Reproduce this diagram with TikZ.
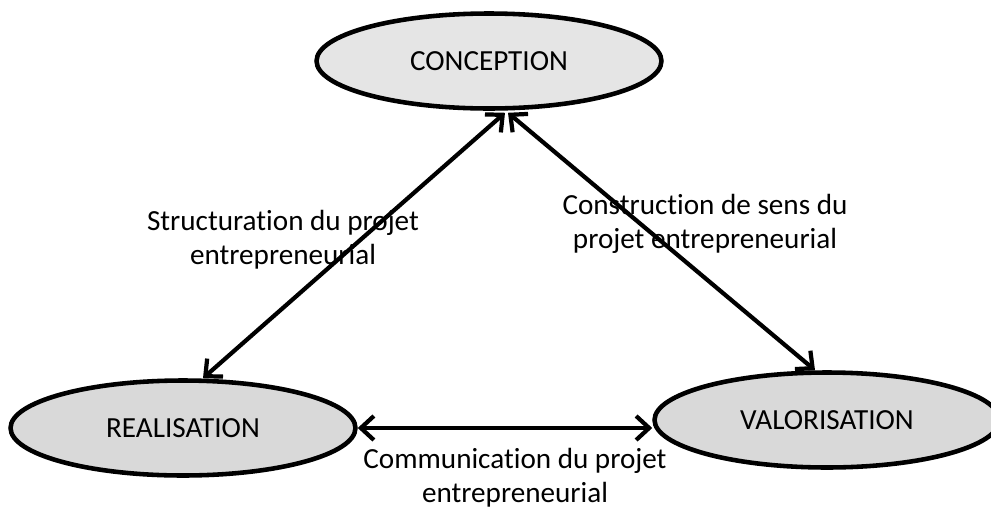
\documentclass[tikz,border=0pt]{standalone}
\usepackage{fontspec}
\setmainfont[Ligatures=NoCommon]{Carlito}
\usetikzlibrary{shapes.geometric, arrows.meta, calc}

\begin{document}
\begin{tikzpicture}[x=0.02cm, y=-0.02cm,
    phase/.style={ellipse, draw, line width=2.6pt, fill=gray!30, minimum width=6.9cm, minimum height=1.9cm, inner sep=0pt, font=\fontsize{16.6}{19}\selectfont},
    arrow/.style={{Straight Barb[length=2.6mm, width=4.8mm, line width=2.4pt]}-{Straight Barb[length=2.6mm, width=4.8mm, line width=2.4pt]}, line width=2.4pt},
    caption/.style={align=center, font=\fontsize{16.6}{19.5}\selectfont}
]
\useasboundingbox (0,0) rectangle (991,511);
\clip (0,0) rectangle (991,511);
% Three phases
\node[phase, fill=gray!20] (concept) at (489,61) {CONCEPTION};
\node[phase] (real) at (183,428) {REALISATION};
\node[phase] (valor) at (827,420) {VALORISATION};
% Links between phases
\draw[arrow] ($(concept.south)+(16,2)$) -- ($(real.north)+(20,0)$);
\draw[arrow] ($(concept.south)+(19,2)$) -- ($(valor.north)+(-12,0)$);
\draw[arrow] (real.east) -- (real.east -| valor.west);
% Labels
\node[caption] (struct) at (283,240) {Structuration du projet\\entrepreneurial};
\node[caption] (sens) at (705,224) {Construction de sens du\\projet entrepreneurial};
\node[caption] (comm) at (515,478) {Communication du projet\\entrepreneurial};
\end{tikzpicture}
\end{document}
